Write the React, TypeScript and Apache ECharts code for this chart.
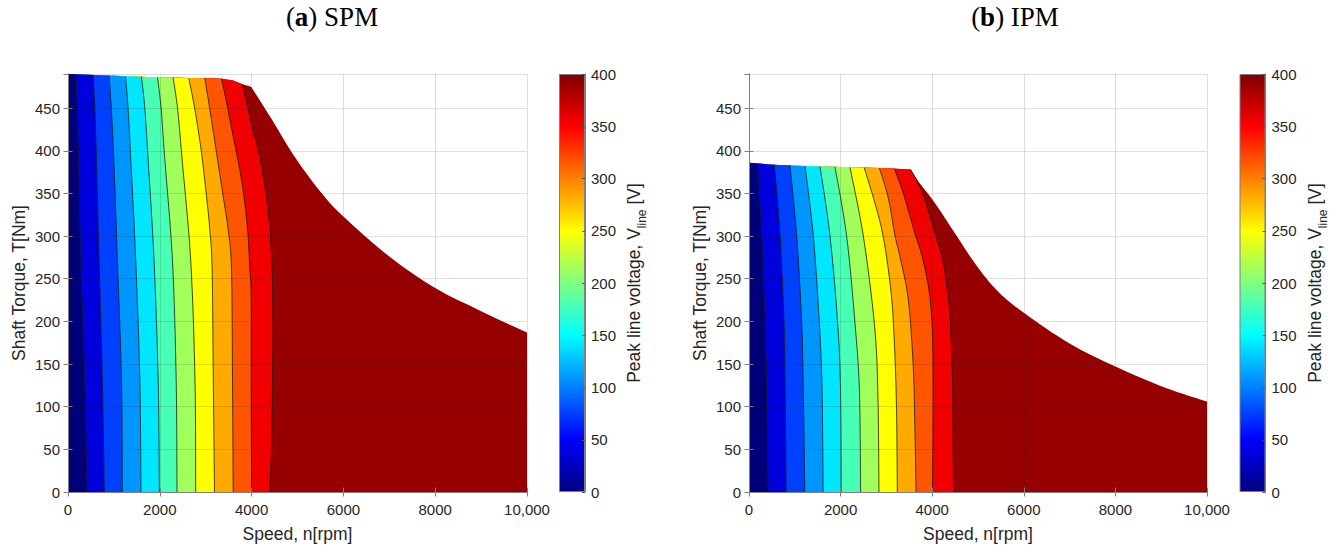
import React, { useEffect, useRef } from 'react';
import * as echarts from 'echarts';

// ---------- data ----------
const X_MAX = 10000;
const X_TICK_VALUES = [0, 2000, 4000, 6000, 8000, 10000];
const X_TICK_LABELS = ['0', '2000', '4000', '6000', '8000', '10,000'];
const T_MAX = 490;
const V_MAX = 400;

// Max-torque envelope (speed rpm, torque Nm): constant-torque top and falling (field-weakening) part
const SPM_ENV_FLAT = [
  [0, 490], [1000, 488], [2000, 486], [3000, 485], [3350, 484.5], [3600, 482.5], [3800, 478], [3990, 475],
];
const SPM_ENV_FALL = [
  [3990, 475], [4450, 436], [4900, 396], [5500, 352], [6000, 323], [7000, 276],
  [8000, 239], [9000, 212], [10000, 187],
];
const IPM_ENV_FLAT = [
  [0, 386], [500, 383.5], [1000, 382.5], [2000, 381], [3000, 379.5], [3530, 378],
];
const IPM_ENV_FALL = [
  [3530, 378], [3740, 361], [3960, 346], [4170, 330], [4450, 307], [4960, 266], [5420, 236],
  [6000, 210], [7000, 174], [8000, 147], [9000, 124], [10000, 106],
];

// Contour lines of peak line voltage (speed rpm, torque Nm), low to high level
const SPM_L1 = [[416, 0], [366, 130], [279, 270], [229, 390], [203, 450], [170, 489.5]];
const SPM_L2 = [[791, 0], [749, 130], [678, 270], [620, 390], [584, 450], [547, 488.5]];
const SPM_L3 = [[1183, 0], [1166, 130], [1078, 270], [998, 390], [943, 450], [895, 488]];
const SPM_L4 = [[1590, 0], [1566, 130], [1477, 270], [1368, 390], [1309, 450], [1253, 487]];
const SPM_L5 = [[1991, 0], [1965, 130], [1876, 270], [1745, 390], [1673, 450], [1601, 486.5]];
const SPM_L6 = [[2375, 0], [2357, 130], [2277, 270], [2109, 390], [2028, 450], [1950, 486]];
const SPM_L7 = [[2782, 0], [2767, 130], [2675, 270], [2486, 390], [2386, 450], [2290, 485.5]];
const SPM_L8 = [[3192, 0], [3166, 130], [3140, 261], [3089, 308], [3017, 347], [2908, 398], [2763, 449], [2632, 485]];
const SPM_L9 = [[3599, 0], [3584, 130], [3562, 261], [3488, 308], [3380, 347], [3235, 398], [3089, 449], [2980, 485]];
const SPM_L10 = [[4000, 0], [3991, 130], [3990, 230], [3961, 261], [3924, 300], [3852, 339], [3743, 378], [3597, 417], [3453, 457], [3344, 484.5]];
const SPM_L11 = [[4392, 0], [4440, 60], [4455, 130], [4465, 190], [4450, 261], [4418, 292], [4360, 331], [4251, 370], [4142, 402], [4033, 423], [3925, 449], [3800, 478]];

const IPM_L1 = [[417, 0], [385, 120], [351, 198], [278, 300], [184, 384.5]];
const IPM_L2 = [[810, 0], [790, 120], [765, 198], [678, 300], [555, 383.5]];
const IPM_L3 = [[1219, 0], [1186, 120], [1151, 198], [1042, 300], [896, 383]];
const IPM_L4 = [[1619, 0], [1595, 120], [1536, 198], [1405, 300], [1224, 382]];
const IPM_L5 = [[2012, 0], [1998, 120], [1936, 198], [1769, 300], [1551, 381.5]];
const IPM_L6 = [[2437, 0], [2410, 120], [2314, 198], [2132, 300], [1878, 381]];
const IPM_L7 = [[2838, 0], [2812, 120], [2736, 198], [2496, 300], [2205, 380.5]];
const IPM_L8 = [[3239, 0], [3220, 100], [3170, 180], [3090, 240], [2890, 310], [2518, 380]];
const IPM_L9 = [[3648, 0], [3620, 80], [3586, 147], [3480, 225], [3300, 275], [3190, 300], [3040, 345], [2845, 380]];
const IPM_L10 = [[4007, 0], [4020, 100], [4005, 187], [3920, 240], [3760, 280], [3640, 300], [3370, 350], [3172, 379]];
const IPM_L11 = [[4466, 0], [4455, 60], [4445, 128], [4390, 205], [4320, 240], [4230, 272], [4080, 300], [3870, 337], [3730, 358], [3530, 378]];

const SPM_LINES = [SPM_L1, SPM_L2, SPM_L3, SPM_L4, SPM_L5, SPM_L6, SPM_L7, SPM_L8, SPM_L9, SPM_L10, SPM_L11];
const IPM_LINES = [IPM_L1, IPM_L2, IPM_L3, IPM_L4, IPM_L5, IPM_L6, IPM_L7, IPM_L8, IPM_L9, IPM_L10, IPM_L11];

// ---------- styles ----------
const BAND_COLORS = [
  '#000078', '#0000dc', '#0040ff', '#0096ff', '#00e6ff', '#48ffb6',
  '#a0ff5a', '#ffff00', '#ffaa00', '#ff5500', '#f00000', '#960000',
];
const JET_STOPS = [
  { offset: 0, color: '#000080' },
  { offset: 0.125, color: '#0000ff' },
  { offset: 0.375, color: '#00ffff' },
  { offset: 0.625, color: '#ffff00' },
  { offset: 0.875, color: '#ff0000' },
  { offset: 1, color: '#800000' },
];
const SANS = 'Liberation Sans, Arial, sans-serif';
const SERIF = 'Liberation Serif, Times New Roman, serif';
const AXIS_COLOR = '#7f7f7f';
const TEXT_COLOR = '#262626';
const GRID_COLOR = 'rgba(38,38,38,0.15)';
const TICK_FONT = 15;
const LABEL_FONT = 17.5;

const f = (v: number) => v.toFixed(2);

// Catmull-Rom spline through pixel points, as cubic bezier segments (current point = pts[0])
function curveThrough(pts: number[][]): string {
  let d = '';
  const n = pts.length;
  for (let i = 0; i < n - 1; i++) {
    const p0 = pts[i - 1] || pts[i];
    const p1 = pts[i];
    const p2 = pts[i + 1];
    const p3 = pts[i + 2] || pts[i + 1];
    const c1x = p1[0] + (p2[0] - p0[0]) / 6;
    const c1y = p1[1] + (p2[1] - p0[1]) / 6;
    const c2x = p2[0] - (p3[0] - p1[0]) / 6;
    const c2y = p2[1] - (p3[1] - p1[1]) / 6;
    d += ` C ${f(c1x)} ${f(c1y)} ${f(c2x)} ${f(c2y)} ${f(p2[0])} ${f(p2[1])}`;
  }
  return d;
}

function regionRenderer(lines: number[][][], envFlat: number[][], envFall: number[][]) {
  return (_params: any, api: any) => {
    const k = api.value(2);
    const o = api.coord([0, 0]);
    let d: string;
    if (k >= lines.length) {
      const fallPx = envFall.slice().reverse().map((p) => api.coord(p));
      const flatPx = envFlat.slice(0, -1).reverse().map((p) => api.coord(p));
      const end = api.coord([X_MAX, 0]);
      d = `M ${f(o[0])} ${f(o[1])} L ${f(end[0])} ${f(end[1])} L ${f(fallPx[0][0])} ${f(fallPx[0][1])}` + curveThrough(fallPx);
      flatPx.forEach((p) => { d += ` L ${f(p[0])} ${f(p[1])}`; });
      d += ' Z';
    } else {
      const line = lines[k];
      const topN = line[line.length - 1][0];
      const linePx = line.map((p) => api.coord(p));
      const envPx = envFlat.filter((p) => p[0] < topN).reverse().map((p) => api.coord(p));
      d = `M ${f(o[0])} ${f(o[1])} L ${f(linePx[0][0])} ${f(linePx[0][1])}` + curveThrough(linePx);
      envPx.forEach((p) => { d += ` L ${f(p[0])} ${f(p[1])}`; });
      d += ' Z';
    }
    return {
      type: 'path',
      z2: 20 - k,
      shape: { pathData: d },
      style: { fill: BAND_COLORS[k], stroke: null },
    };
  };
}

function lineRenderer(lines: number[][][]) {
  return (_params: any, api: any) => {
    const k = api.value(2);
    const px = lines[k].map((p) => api.coord(p));
    const d = `M ${f(px[0][0])} ${f(px[0][1])}` + curveThrough(px);
    return {
      type: 'path',
      z2: 40,
      shape: { pathData: d },
      style: { stroke: '#1a1a1a', lineWidth: 0.8, fill: null },
    };
  };
}

function mainAxes(gridIndex: number) {
  const xBottom = {
    type: 'value', gridIndex, min: 0, max: X_MAX, interval: 2000, z: 5,
    position: 'bottom',
    axisLine: { show: true, lineStyle: { color: AXIS_COLOR, width: 1 } },
    axisTick: { show: true, inside: true, length: 4.5, lineStyle: { color: AXIS_COLOR } },
    axisLabel: {
      margin: 10, fontSize: TICK_FONT, color: TEXT_COLOR, fontFamily: SANS,
      formatter: (v: number) => {
        const i = X_TICK_VALUES.indexOf(v);
        return i >= 0 ? X_TICK_LABELS[i] : '';
      },
    },
    splitLine: { show: true, lineStyle: { color: GRID_COLOR, width: 1 } },
    name: 'Speed, n[rpm]', nameLocation: 'middle', nameGap: 33,
    nameTextStyle: { fontSize: LABEL_FONT, color: TEXT_COLOR, fontFamily: SANS },
  };
  const xTop = {
    type: 'value', gridIndex, min: 0, max: X_MAX, interval: 2000, z: 5,
    position: 'top',
    axisLine: { show: true, lineStyle: { color: AXIS_COLOR, width: 1 } },
    axisTick: { show: true, inside: true, length: 4.5, lineStyle: { color: AXIS_COLOR } },
    axisLabel: { show: false },
    splitLine: { show: false },
  };
  const yLeft = {
    type: 'value', gridIndex, min: 0, max: T_MAX, interval: 50, z: 5,
    position: 'left',
    axisLine: { show: true, lineStyle: { color: AXIS_COLOR, width: 1 } },
    axisTick: { show: true, inside: true, length: 4.5, lineStyle: { color: AXIS_COLOR } },
    axisLabel: { margin: 8, fontSize: TICK_FONT, color: TEXT_COLOR, fontFamily: SANS, showMaxLabel: false },
    splitLine: { show: true, lineStyle: { color: GRID_COLOR, width: 1 } },
    name: 'Shaft Torque, T[Nm]', nameLocation: 'middle', nameGap: 40, nameRotate: 90,
    nameTextStyle: { fontSize: LABEL_FONT, color: TEXT_COLOR, fontFamily: SANS },
  };
  const yRight = {
    type: 'value', gridIndex, min: 0, max: T_MAX, interval: 50, z: 5,
    position: 'right',
    axisLine: { show: true, lineStyle: { color: AXIS_COLOR, width: 1 } },
    axisTick: { show: true, inside: true, length: 4.5, lineStyle: { color: AXIS_COLOR } },
    axisLabel: { show: false },
    splitLine: { show: false },
  };
  return { x: [xBottom, xTop], y: [yLeft, yRight] };
}

function colorbarAxes(gridIndex: number) {
  return {
    x: {
      type: 'category', gridIndex, data: ['V'], show: false,
    },
    y: {
      type: 'value', gridIndex, min: 0, max: V_MAX, interval: 50, z: 5,
      position: 'right',
      axisLine: { show: true, lineStyle: { color: AXIS_COLOR, width: 1 } },
      axisTick: { show: true, inside: true, length: 3, lineStyle: { color: '#555' } },
      axisLabel: { margin: 6, fontSize: TICK_FONT, color: TEXT_COLOR, fontFamily: SANS },
      splitLine: { show: false },
    },
  };
}

export default function App() {
  const ref = useRef<HTMLDivElement>(null);

  useEffect(() => {
    document.body.style.margin = '0';
    if (!ref.current) return;
    const chart = echarts.init(ref.current, undefined, { renderer: 'svg' });

    const a = mainAxes(0);
    const b = mainAxes(1);
    const ca = colorbarAxes(2);
    const cb = colorbarAxes(3);

    const regionOrder = [11, 10, 9, 8, 7, 6, 5, 4, 3, 2, 1, 0];
    const lineOrder = [0, 1, 2, 3, 4, 5, 6, 7, 8, 9, 10];

    const colorbarSeries = (idx: number) => ({
      type: 'bar', xAxisIndex: idx, yAxisIndex: idx,
      data: [V_MAX], barWidth: '100%', silent: true,
      itemStyle: {
        color: new echarts.graphic.LinearGradient(0, 1, 0, 0, JET_STOPS),
        borderColor: AXIS_COLOR, borderWidth: 1,
      },
    });

    const cbLabel = (x: number) => ({
      type: 'text', x, y: 283, rotation: Math.PI / 2, silent: true,
      style: {
        text: 'Peak line voltage, V{s|line} [V]',
        fontSize: LABEL_FONT, fontFamily: SANS, fill: TEXT_COLOR,
        align: 'center', verticalAlign: 'middle',
        textAlign: 'center', textVerticalAlign: 'middle',
        rich: { s: { fontSize: 12, fontFamily: SANS, fill: TEXT_COLOR, color: TEXT_COLOR, padding: [16, 0, 0, 0] } },
      },
    });

    const title = (x: number, letter: string, name: string) => ({
      type: 'text', x, y: 17, silent: true,
      style: {
        text: '({b|' + letter + '}) ' + name,
        fontSize: 27, fontFamily: SERIF, fill: '#000',
        align: 'center', verticalAlign: 'middle',
        textAlign: 'center', textVerticalAlign: 'middle',
        rich: { b: { fontSize: 27, fontFamily: SERIF, fontWeight: 'bold', fill: '#000', color: '#000' } },
      },
    });

    chart.setOption({
      animation: false,
      grid: [
        { left: 68, top: 74, width: 459, height: 418 },
        { left: 749, top: 74, width: 458, height: 418 },
        { left: 559, top: 74, width: 26, height: 418 },
        { left: 1239.5, top: 74, width: 26, height: 418 },
      ],
      xAxis: [a.x[0], a.x[1], b.x[0], b.x[1], ca.x, cb.x],
      yAxis: [a.y[0], a.y[1], b.y[0], b.y[1], ca.y, cb.y],
      series: [
        {
          type: 'custom', xAxisIndex: 0, yAxisIndex: 0, silent: true,
          renderItem: regionRenderer(SPM_LINES, SPM_ENV_FLAT, SPM_ENV_FALL),
          encode: { x: 0, y: 1 },
          data: regionOrder.map((k) => [0, 0, k]),
        },
        {
          type: 'custom', xAxisIndex: 0, yAxisIndex: 0, silent: true,
          renderItem: lineRenderer(SPM_LINES),
          encode: { x: 0, y: 1 },
          data: lineOrder.map((k) => [0, 0, k]),
        },
        {
          type: 'custom', xAxisIndex: 2, yAxisIndex: 2, silent: true,
          renderItem: regionRenderer(IPM_LINES, IPM_ENV_FLAT, IPM_ENV_FALL),
          encode: { x: 0, y: 1 },
          data: regionOrder.map((k) => [0, 0, k]),
        },
        {
          type: 'custom', xAxisIndex: 2, yAxisIndex: 2, silent: true,
          renderItem: lineRenderer(IPM_LINES),
          encode: { x: 0, y: 1 },
          data: lineOrder.map((k) => [0, 0, k]),
        },
        colorbarSeries(4),
        colorbarSeries(5),
      ],
      graphic: [
        title(332, 'a', 'SPM'),
        title(1015, 'b', 'IPM'),
        cbLabel(634),
        cbLabel(1315),
      ],
    });

    return () => chart.dispose();
  }, []);

  return <div ref={ref} style={{ width: 1343, height: 552 }} />;
}
